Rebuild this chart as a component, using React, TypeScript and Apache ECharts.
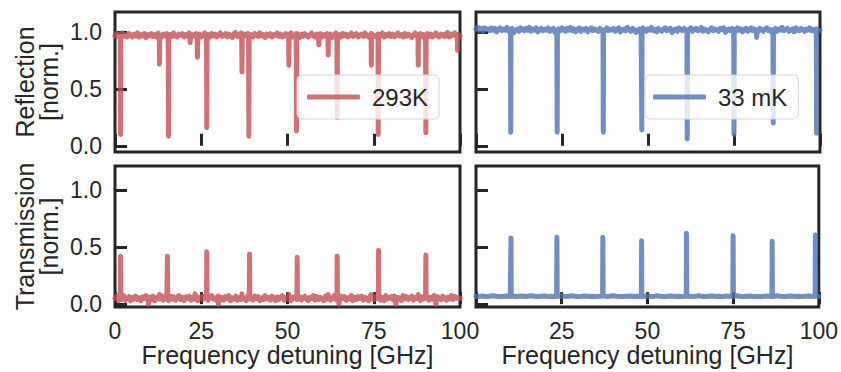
import React, { useEffect, useRef } from "react";
import * as echarts from "echarts";

// ---------- data ----------
const xTicks = [0, 25, 50, 75, 100];
const xTicksRight = [25, 50, 75, 100];
const yTicks = [0, 0.5, 1.0];

// noisy baselines sampled every 0.5 GHz (x = index * 0.5)
const FINE_STEP = 0.5;
const refl293Base = [
  0.97, 0.99, 0.96, 0.98, 0.995, 0.965, 0.98, 0.96, 0.99, 0.975, 0.96, 0.985, 0.97, 0.995, 0.96, 0.98, 0.97, 0.99, 0.955, 0.98,
  0.97, 0.99, 0.965, 0.98, 0.96, 0.995, 0.975, 0.96, 0.985, 0.97, 0.99, 0.96, 0.98, 0.965, 0.995, 0.97, 0.96, 0.985, 0.975, 0.99,
  0.96, 0.98, 0.97, 0.995, 0.955, 0.98, 0.97, 0.99, 0.965, 0.985, 0.96, 0.975, 0.995, 0.965, 0.98, 0.96, 0.99, 0.97, 0.985, 0.96,
  0.98, 0.995, 0.965, 0.975, 0.99, 0.96, 0.985, 0.97, 0.955, 0.99, 0.975, 0.965, 0.98, 0.995, 0.96, 0.985, 0.97, 0.99, 0.965, 0.98,
  0.96, 0.99, 0.975, 0.965, 0.995, 0.97, 0.98, 0.955, 0.985, 0.97, 0.99, 0.96, 0.98, 0.975, 0.995, 0.965, 0.985, 0.96, 0.97, 0.99,
  0.965, 0.98, 0.995, 0.96, 0.975, 0.99, 0.97, 0.955, 0.985, 0.965, 0.99, 0.975, 0.96, 0.98, 0.995, 0.97, 0.96, 0.985, 0.975, 0.99,
  0.96, 0.98, 0.97, 0.99, 0.965, 0.985, 0.955, 0.975, 0.995, 0.965, 0.98, 0.96, 0.99, 0.97, 0.985, 0.96, 0.975, 0.995, 0.965, 0.98,
  0.99, 0.96, 0.975, 0.985, 0.965, 0.995, 0.97, 0.96, 0.98, 0.99, 0.965, 0.975, 0.955, 0.985, 0.97, 0.995, 0.96, 0.98, 0.97, 0.99,
  0.965, 0.985, 0.96, 0.975, 0.995, 0.97, 0.98, 0.96, 0.99, 0.965, 0.985, 0.97, 0.955, 0.98, 0.995, 0.965, 0.975, 0.99, 0.96, 0.98,
  0.97, 0.99, 0.965, 0.985, 0.96, 0.975, 0.995, 0.97, 0.96, 0.985, 0.98, 0.965, 0.99, 0.97, 0.96, 0.985, 0.975, 0.995, 0.965, 0.98,
  0.97,
];
// [frequency GHz, value]
const refl293Features = [
  [1.6, 0.1], [12.9, 0.72], [15.5, 0.085], [21.8, 0.91], [23.9, 0.78],
  [26.6, 0.16], [34.9, 1.0], [36.8, 0.65], [38.8, 0.085], [50.4, 0.71],
  [52.6, 0.13], [59.1, 0.89], [61.8, 0.8], [64.4, 0.25], [74.3, 0.71],
  [76.3, 0.1], [87.9, 0.71], [90.1, 0.115], [96.4, 1.0], [99.3, 0.84],
];

const refl33Base = [
  1.03, 1.045, 1.02, 1.035, 1.01, 1.04, 1.025, 1.03, 1.015, 1.04, 1.02, 1.035, 1.005, 1.025, 1.04, 1.015, 1.03, 1.02, 1.045, 1.01,
  1.025, 1.035, 1.0, 1.02, 1.03, 1.01, 1.04, 1.025, 1.015, 1.035, 1.02, 1.045, 1.01, 1.03, 1.02, 1.04, 1.005, 1.025, 1.035, 1.015,
  1.03, 1.02, 1.04, 1.01, 1.025, 1.035, 1.0, 1.02, 1.03, 1.015, 1.04, 1.025, 1.01, 1.035, 1.02, 1.045, 1.015, 1.03, 1.005, 1.025,
  1.04, 1.01, 1.03, 1.02, 1.035, 1.005, 1.025, 1.04, 1.015, 1.03, 1.02, 1.01, 1.035, 1.025, 1.0, 1.02, 1.04, 1.015, 1.03, 1.02,
  1.035, 1.01, 1.025, 1.04, 1.005, 1.02, 1.03, 1.015, 1.045, 1.02, 1.01, 1.035, 1.025, 1.0, 1.02, 1.03, 1.015, 1.04, 1.02, 1.01,
  1.03, 1.02, 1.045, 1.015, 1.025, 1.005, 1.035, 1.02, 1.01, 1.03, 1.04, 1.015, 1.025, 1.035, 1.0, 1.02, 1.03, 1.01, 1.04, 1.025,
  1.015, 1.035, 1.02, 1.005, 1.03, 1.04, 1.01, 1.025, 1.035, 1.015, 1.02, 1.045, 1.01, 1.03, 1.02, 1.005, 1.025, 1.04, 1.015, 1.03,
  1.02, 1.01, 1.035, 1.025, 1.04, 1.0, 1.02, 1.03, 1.015, 1.035, 1.025, 1.01, 1.04, 1.02, 1.03, 1.005, 1.025, 1.035, 1.01, 1.02,
  1.04, 1.015, 1.03, 1.02, 1.005, 1.035, 1.025, 1.01, 1.03, 1.04, 1.015, 1.025, 1.0, 1.02, 1.035, 1.01, 1.03, 1.02, 1.045, 1.015,
  1.025, 1.035, 1.01, 1.02, 1.03, 1.005, 1.04, 1.02, 1.015, 1.035, 1.025, 1.01, 1.03, 1.02, 1.04, 1.015, 1.025, 1.005, 1.03, 1.02,
  1.02,
];
const refl33Features = [
  [10.1, 0.12], [23.6, 0.12], [37.0, 0.12], [48.2, 0.14], [61.4, 0.06],
  [75.0, 0.1], [81.6, 0.955], [86.4, 0.2], [99.0, 0.11],
];

const trans293Base = [
  0.05, 0.07, 0.03, 0.06, 0.04, 0.075, 0.035, 0.055, 0.065, 0.03, 0.06, 0.045, 0.07, 0.04, 0.055, 0.03, 0.065, 0.05, 0.075, 0.035,
  0.06, 0.04, 0.07, 0.03, 0.055, 0.065, 0.045, 0.075, 0.035, 0.06, 0.05, 0.03, 0.07, 0.045, 0.065, 0.035, 0.055, 0.075, 0.04, 0.06,
  0.03, 0.065, 0.05, 0.07, 0.035, 0.06, 0.045, 0.075, 0.03, 0.055, 0.065, 0.04, 0.07, 0.05, 0.035, 0.06, 0.075, 0.045, 0.055, 0.03,
  0.07, 0.04, 0.06, 0.035, 0.065, 0.05, 0.075, 0.03, 0.055, 0.045, 0.07, 0.035, 0.06, 0.04, 0.065, 0.05, 0.03, 0.075, 0.045, 0.06,
  0.035, 0.07, 0.05, 0.065, 0.03, 0.055, 0.04, 0.075, 0.045, 0.06, 0.035, 0.07, 0.05, 0.03, 0.065, 0.04, 0.06, 0.075, 0.035, 0.055,
  0.045, 0.07, 0.03, 0.06, 0.05, 0.075, 0.04, 0.065, 0.035, 0.055, 0.07, 0.045, 0.03, 0.06, 0.05, 0.075, 0.035, 0.065, 0.04, 0.06,
  0.05, 0.03, 0.07, 0.045, 0.065, 0.035, 0.055, 0.075, 0.04, 0.06, 0.03, 0.07, 0.05, 0.065, 0.035, 0.055, 0.045, 0.075, 0.03, 0.06,
  0.04, 0.065, 0.05, 0.07, 0.035, 0.06, 0.045, 0.03, 0.075, 0.055, 0.04, 0.065, 0.05, 0.07, 0.035, 0.06, 0.03, 0.075, 0.045, 0.055,
  0.065, 0.04, 0.07, 0.035, 0.06, 0.05, 0.03, 0.075, 0.045, 0.065, 0.04, 0.055, 0.07, 0.035, 0.06, 0.05, 0.075, 0.03, 0.065, 0.045,
  0.055, 0.07, 0.035, 0.06, 0.045, 0.075, 0.03, 0.065, 0.05, 0.04, 0.07, 0.055, 0.035, 0.06, 0.045, 0.075, 0.04, 0.065, 0.05, 0.06,
  0.05,
];
const trans293Features = [
  [1.6, 0.42], [9.7, 0.0], [12.9, 0.085], [15.2, 0.42], [23.2, 0.09],
  [26.6, 0.46], [30.0, 0.0], [36.8, 0.09], [39.0, 0.44], [50.4, 0.085],
  [52.8, 0.41], [61.8, 0.085], [64.4, 0.42], [64.9, 0.0], [74.3, 0.085],
  [76.4, 0.47], [81.4, 0.0], [87.9, 0.085], [90.1, 0.43], [93.0, 0.0],
];

// smooth baseline sampled every 1 GHz
const COARSE_STEP = 1;
const trans33Base = [
  0.07, 0.068, 0.072, 0.066, 0.07, 0.074, 0.068, 0.066, 0.07, 0.072,
  0.068, 0.07, 0.066, 0.072, 0.07, 0.068, 0.074, 0.07, 0.066, 0.07,
  0.072, 0.068, 0.07, 0.066, 0.07, 0.072, 0.068, 0.07, 0.074, 0.068,
  0.066, 0.07, 0.072, 0.068, 0.07, 0.066, 0.07, 0.072, 0.068, 0.07,
  0.074, 0.07, 0.066, 0.068, 0.07, 0.072, 0.068, 0.07, 0.066, 0.07,
  0.072, 0.068, 0.07, 0.074, 0.068, 0.066, 0.07, 0.072, 0.068, 0.07,
  0.066, 0.07, 0.072, 0.068, 0.07, 0.074, 0.068, 0.066, 0.07, 0.072,
  0.068, 0.07, 0.066, 0.072, 0.07, 0.068, 0.074, 0.07, 0.066, 0.07,
  0.072, 0.068, 0.07, 0.066, 0.07, 0.072, 0.068, 0.07, 0.074, 0.068,
  0.066, 0.07, 0.072, 0.068, 0.07, 0.066, 0.07, 0.072, 0.068, 0.07,
  0.07,
];
const trans33Features = [
  [10.2, 0.58], [23.6, 0.585], [37.0, 0.585], [48.3, 0.555], [61.4, 0.62],
  [75.0, 0.6], [86.4, 0.55], [99.0, 0.605],
];

const seriesNames = ["293K", "33 mK"];
const xAxisName = "Frequency detuning [GHz]";
const yAxisNames = ["Reflection\n[norm.]", "Transmission\n[norm.]"];

// ---------- styling ----------
const RED = "rgba(196,78,82,0.8)";
const BLUE = "rgba(76,114,176,0.8)";
const INK = "#262626";
const FONT = "'Liberation Sans', Arial, Helvetica, sans-serif";

function buildTrace(base: number[], step: number, features: number[][]) {
  const pts: number[][] = [];
  base.forEach((v, i) => {
    const x = i * step;
    if (!features.some(([f]) => Math.abs(f - x) < 0.15)) pts.push([x, v]);
  });
  features.forEach(([f, v]) => {
    const b = base[Math.min(base.length - 1, Math.round(f / step))];
    pts.push([f - 0.08, b], [f, v], [f + 0.08, b]);
  });
  return pts.sort((a, b) => a[0] - b[0]);
}

export default function App() {
  const ref = useRef<HTMLDivElement>(null);
  useEffect(() => {
    if (!ref.current) return;
    const chart = echarts.init(ref.current, undefined, { renderer: "svg" });

    const grids = [
      { left: 115, top: 12, width: 345, height: 140 },
      { left: 476, top: 12, width: 344, height: 140 },
      { left: 115, top: 166, width: 345, height: 141 },
      { left: 476, top: 166, width: 344, height: 141 },
    ].map((g) => ({
      ...g,
      show: true,
      borderColor: INK,
      borderWidth: 3,
      backgroundColor: "transparent",
    }));

    const xAxes = [0, 1, 2, 3].map((i) => ({
      type: "value",
      gridIndex: i,
      min: 0,
      max: 100,
      interval: 25,
      axisLine: { show: false },
      splitLine: { show: false },
      axisTick: {
        show: true,
        inside: true,
        length: 12,
        customValues: xTicks,
        lineStyle: { color: INK, width: 3 },
      },
      axisLabel: {
        show: i >= 2,
        customValues: i === 3 ? xTicksRight : xTicks,
        margin: 12,
        fontFamily: FONT,
        fontSize: 23,
        color: INK,
      },
      name: i >= 2 ? xAxisName : "",
      nameLocation: "middle",
      nameGap: 35,
      nameTextStyle: { fontFamily: FONT, fontSize: 25, color: INK },
    }));

    const yAxes = [0, 1, 2, 3].map((i) => ({
      type: "value",
      gridIndex: i,
      min: i < 2 ? -0.055 : -0.025,
      max: i < 2 ? 1.18 : 1.21,
      axisLine: { show: false },
      splitLine: { show: false },
      axisTick: {
        show: true,
        inside: true,
        length: 12,
        customValues: yTicks,
        lineStyle: { color: INK, width: 3 },
      },
      axisLabel: {
        show: i % 2 === 0,
        customValues: yTicks,
        formatter: (v: number) => v.toFixed(1),
        margin: 13,
        fontFamily: FONT,
        fontSize: 23,
        color: INK,
      },
      name: i % 2 === 0 ? yAxisNames[i / 2] : "",
      nameLocation: "middle",
      nameRotate: 90,
      nameGap: 54,
      nameTextStyle: { fontFamily: FONT, fontSize: 25, lineHeight: 24, color: INK },
    }));

    const lineSeries = (name: string, idx: number, data: number[][], color: string) => ({
      type: "line",
      name,
      xAxisIndex: idx,
      yAxisIndex: idx,
      data,
      symbol: "none",
      showSymbol: false,
      clip: true,
      lineStyle: { color, width: 5, cap: "round", join: "round" },
      itemStyle: { color },
    });

    const legendBase = {
      orient: "horizontal",
      top: 75,
      itemWidth: 53,
      itemHeight: 5,
      icon: "roundRect",
      selectedMode: false,
      backgroundColor: "rgba(255,255,255,0.8)",
      borderColor: "#d6d6d6",
      borderWidth: 1,
      borderRadius: 5,
      textStyle: { fontFamily: FONT, fontSize: 24, color: INK, padding: [0, 0, 0, 7] },
    };

    chart.setOption({
      animation: false,
      grid: grids,
      xAxis: xAxes,
      yAxis: yAxes,
      legend: [
        { ...legendBase, data: [seriesNames[0]], left: 297, padding: [10, 11, 10, 10] },
        { ...legendBase, data: [seriesNames[1]], left: 645, padding: [10, 11, 10, 8] },
      ],
      series: [
        lineSeries(seriesNames[0], 0, buildTrace(refl293Base, FINE_STEP, refl293Features), RED),
        lineSeries(seriesNames[1], 1, buildTrace(refl33Base, FINE_STEP, refl33Features), BLUE),
        lineSeries(seriesNames[0] + " T", 2, buildTrace(trans293Base, FINE_STEP, trans293Features), RED),
        lineSeries(seriesNames[1] + " T", 3, buildTrace(trans33Base, COARSE_STEP, trans33Features), BLUE),
      ],
    });
    return () => chart.dispose();
  }, []);

  return (
    <div
      ref={ref}
      style={{ position: "fixed", left: 0, top: 0, width: 841, height: 372, background: "#fff" }}
    />
  );
}
